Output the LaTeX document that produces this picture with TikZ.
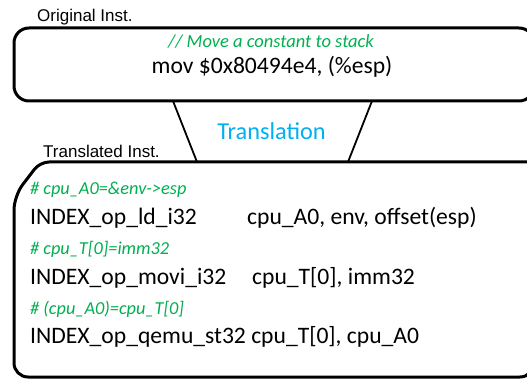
\documentclass[tikz,border=0pt]{standalone}
\usepackage{fontspec}
\setmainfont{Carlito}
\newfontfamily\arialf{Liberation Sans}
\definecolor{cmtgreen}{RGB}{0,176,80}
\definecolor{trblue}{RGB}{0,176,240}
\begin{document}
\begin{tikzpicture}[x=1pt,y=-1pt,
  boxline/.style={line width=3pt},
  trline/.style={line width=1.8pt},
  lbl/.style={anchor=base west,inner sep=0pt,font=\arialf\fontsize{17}{20}\selectfont},
  code/.style={anchor=base west,inner sep=0pt,font=\fontsize{23.6}{28}\selectfont},
  cmt/.style={anchor=base west,inner sep=0pt,text=cmtgreen,font=\itshape\fontsize{18.3}{22}\selectfont}]
\useasboundingbox (0,0) rectangle (527,379);
\clip (0,0) rectangle (527,379);
% boxes
\draw[boxline,rounded corners=15pt] (14,28) rectangle (534,101);
\draw[boxline,rounded corners=14pt] (534,162) -- (534,377) -- (14,377) -- (14,196)
  [rounded corners=9pt] -- (40,162) -- (150,162) [rounded corners=14pt] -- (534,162);
% trapezoid
\coordinate (tl) at (173,101);
\coordinate (bl) at (197,162);
\coordinate (tr) at (372,101);
\coordinate (br) at (348,162);
\draw[trline] (tl) -- (bl);
\draw[trline] (tr) -- (br);
\node[anchor=base,inner sep=0pt,text=trblue,font=\fontsize{24.3}{28}\selectfont] (trans) at (271.5,140) {Translation};
% labels
\node[lbl] (orig) at (37,21.5) {Original Inst.};
\node[lbl] (transl) at (43,158) {Translated Inst.};
% top box text
\node[anchor=base,inner sep=0pt,text=cmtgreen,font=\itshape\fontsize{18.5}{22}\selectfont] (c0) at (271,47.3) {// Move a constant to stack};
\node[anchor=base,inner sep=0pt,font=\fontsize{23.6}{28}\selectfont] (m0) at (272,73.3) {mov \$0x80494e4, (\%esp)};
% bottom box text
\node[cmt] (c1) at (30,195) {\# cpu\_A0=\&env->esp};
\node[code] (o1) at (30,225) {INDEX\_op\_ld\_i32};
\node[code] (a1) at (247,225) {cpu\_A0, env, offset(esp)};
\node[cmt] (c2) at (30,254.5) {\# cpu\_T[0]=imm32};
\node[code] (o2) at (30,284) {INDEX\_op\_movi\_i32};
\node[code] (a2) at (252,284) {cpu\_T[0], imm32};
\node[cmt] (c3) at (30,314) {\# (cpu\_A0)=cpu\_T[0]};
\node[code] (o3) at (30,343) {INDEX\_op\_qemu\_st32 cpu\_T[0], cpu\_A0};
\end{tikzpicture}
\end{document}
